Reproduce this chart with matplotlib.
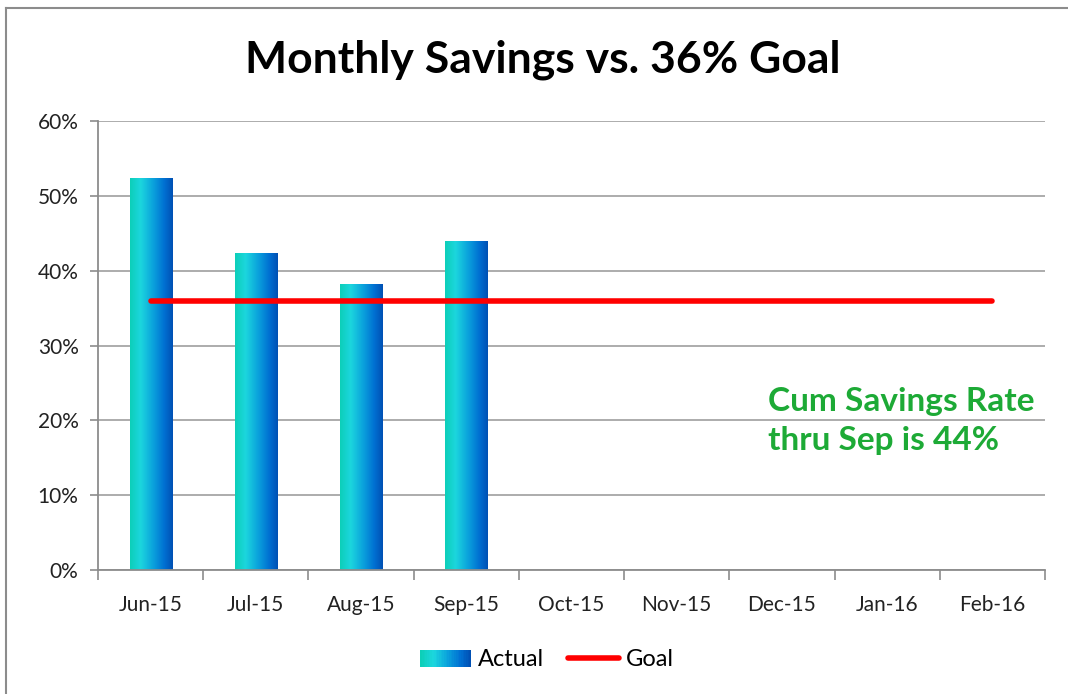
import numpy as np
import matplotlib
matplotlib.use("Agg")
import matplotlib.pyplot as plt
from matplotlib.colors import LinearSegmentedColormap
from matplotlib.patches import Rectangle
from matplotlib.legend_handler import HandlerBase
from matplotlib.lines import Line2D

months = ["Jun-15", "Jul-15", "Aug-15", "Sep-15", "Oct-15", "Nov-15", "Dec-15", "Jan-16", "Feb-16"]
actual = [52.4, 42.3, 38.2, 43.9]
goal = [36, 36, 36, 36, 36, 36, 36, 36, 36]
yticks = [0, 10, 20, 30, 40, 50, 60]
note = "Cum Savings Rate\nthru Sep is 44%"
title = "Monthly Savings vs. 36% Goal"

plt.rcParams['font.family'] = ['Lato', 'DejaVu Sans']

grad = LinearSegmentedColormap.from_list(
    "g", [(0.0, "#0CCFB8"), (0.25, "#1CD6DE"), (0.55, "#0AA0DC"), (0.8, "#0070D2"), (1.0, "#0050B4")])

fig = plt.figure(figsize=(10.68, 6.94), dpi=100, facecolor="white")
# chart-area border (only top and left edges visible in the crop)
fig.add_artist(Line2D([6/1068, 1.0], [1 - 8/694, 1 - 8/694], transform=fig.transFigure,
                      color="#8C8C8C", linewidth=1.5))
fig.add_artist(Line2D([6/1068, 6/1068], [0.0, 1 - 8/694], transform=fig.transFigure,
                      color="#8C8C8C", linewidth=1.5))
ax = fig.add_axes([98/1068, 1 - 570/694, (1045 - 98)/1068, (570 - 121)/694])

x = np.arange(len(months))
bars = ax.bar(x[:len(actual)], actual, width=0.4, color="none", zorder=2)
gimg = np.linspace(0, 1, 256).reshape(1, -1)
for b in bars:
    x0, y0 = b.get_x(), b.get_y()
    w, h = b.get_width(), b.get_height()
    im = ax.imshow(gimg, cmap=grad, extent=[x0, x0 + w, y0, y0 + h], aspect="auto", zorder=2,
                   interpolation="bilinear")
    im.set_clip_path(b)

ax.plot(x, goal, color="#FF0000", linewidth=4, solid_capstyle="round", zorder=3)

ax.set_xlim(-0.5, len(months) - 0.5)
ax.set_ylim(0, 60)
ax.set_yticks(yticks)
ax.set_yticklabels([f"{v}%" for v in yticks], fontsize=15, color="#222222")
ax.set_xticks(x)
ax.set_xticklabels(months, fontsize=15, color="#222222")
ax.set_xticks(np.arange(len(months) + 1) - 0.5, minor=True)
ax.tick_params(axis="x", which="major", length=0, pad=18)
ax.tick_params(axis="x", which="minor", length=7, color="#8C8C8C", width=1.2, direction="out")
ax.tick_params(axis="y", length=6, color="#8C8C8C", width=1.2, pad=8)
ax.grid(axis="y", color="#A6A6A6", linewidth=1.3, zorder=0)
ax.set_axisbelow(True)
for s in ["top", "right"]:
    ax.spines[s].set_visible(False)
for s in ["left", "bottom"]:
    ax.spines[s].set_color("#8C8C8C")
    ax.spines[s].set_linewidth(1.3)

ax.text(5.87, 19.9, note, fontsize=24, fontweight="bold", color="#1DAA36",
        ha="left", va="center", linespacing=1.4)

fig.text(0.508, 1 - 60/694, title, fontsize=32, fontweight="bold", ha="center", va="center", color="#000000")


class GradHandler(HandlerBase):
    def create_artists(self, legend, orig_handle, xdescent, ydescent, width, height, fontsize, trans):
        arts = []
        n = 30
        for i in range(n):
            r = Rectangle((-xdescent + width * i / n, -ydescent), width / n + 0.3, height,
                          facecolor=grad(i / (n - 1)), edgecolor="none", transform=trans)
            arts.append(r)
        return arts


h_act = Rectangle((0, 0), 1, 1)
h_goal = Line2D([0], [0], color="#FF0000", linewidth=4, solid_capstyle="round")
fig.legend([h_act, h_goal], ["Actual", "Goal"], handler_map={Rectangle: GradHandler()},
           loc="center", bbox_to_anchor=(547/1068, 1 - 660/694), ncol=2, frameon=False,
           fontsize=17, handlelength=2.15, handletextpad=0.3, columnspacing=1.0)

fig.savefig("out.png", dpi=100, facecolor="white")
